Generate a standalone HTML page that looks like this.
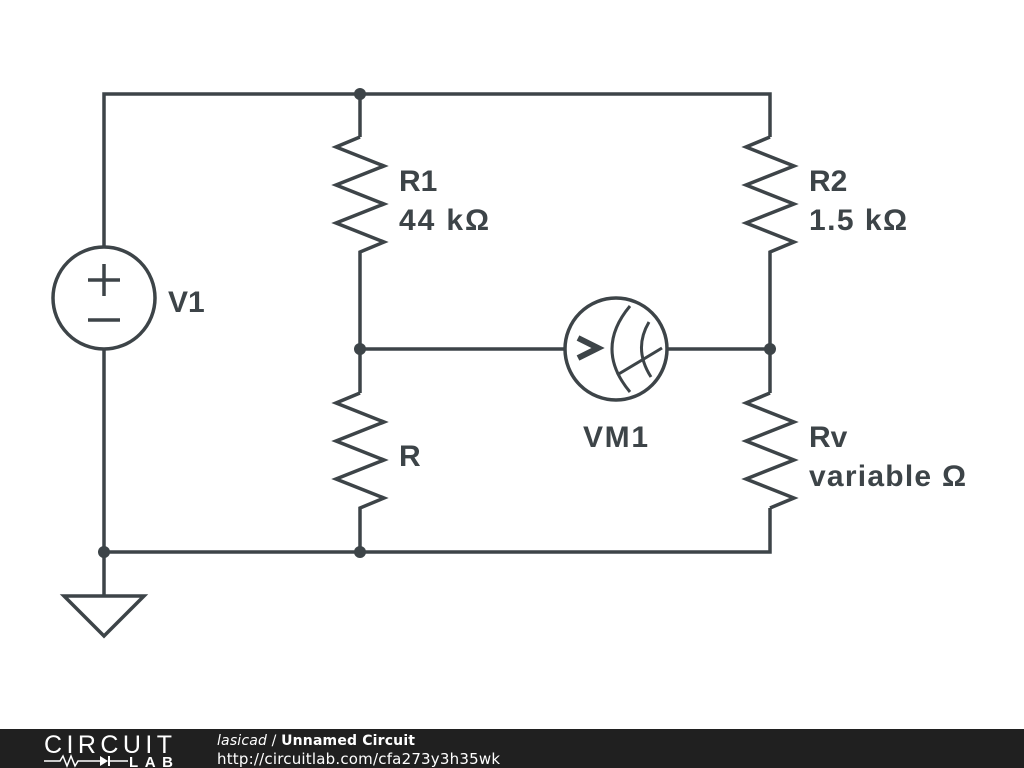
<!DOCTYPE html>
<html><head><meta charset="utf-8"><style>
html,body{margin:0;padding:0;background:#fff;width:1024px;height:768px;overflow:hidden}
svg{display:block}
</style></head><body>
<svg width="1024" height="768" viewBox="0 0 1024 768" xmlns="http://www.w3.org/2000/svg">
<g fill="none" stroke="#3d4448" stroke-width="3.5" stroke-linejoin="miter">
<polyline points="104,247 104,94 770,94 770,137"/>
<line x1="104" y1="349" x2="104" y2="596"/>
<polyline points="104,552 770,552 770,508"/>
<line x1="360" y1="94" x2="360" y2="137"/>
<polyline points="360,137 336,147 384,166 336,185 384,204 336,223 384,242 360,252 360,393"/>
<polyline points="360,393 336,403 384,422 336,441 384,460 336,479 384,498 360,508 360,552"/>
<polyline points="770,137 746,147 794,166 746,185 794,204 746,223 794,242 770,252 770,393"/>
<polyline points="770,393 746,403 794,422 746,441 794,460 746,479 794,498 770,508"/>
<line x1="360" y1="349" x2="565" y2="349"/>
<line x1="667" y1="349" x2="770" y2="349"/>
<circle cx="104" cy="298" r="51"/>
<line x1="88" y1="280" x2="120" y2="280"/>
<line x1="104" y1="264" x2="104" y2="296"/>
<line x1="88" y1="320" x2="120" y2="320"/>
<polygon points="64,596 144,596 104,636"/>
<circle cx="616" cy="349" r="51"/>
<path d="M630,306 Q594,349 630,392" stroke-width="3"/>
<path d="M649,322 Q633,349 651,377" stroke-width="3"/>
<line x1="617" y1="375" x2="662" y2="348" stroke-width="3"/>
<polyline points="578,338 598,348 578,358" stroke-width="6"/>
</g>
<g fill="#3d4448">
<circle cx="360" cy="94" r="6"/>
<circle cx="360" cy="349" r="6"/>
<circle cx="770" cy="349" r="6"/>
<circle cx="104" cy="552" r="6"/>
<circle cx="360" cy="552" r="6"/>
</g>
<g fill="#3d4448" font-family="Liberation Sans, sans-serif" font-weight="bold" font-size="30">
<text x="399" y="191">R1</text>
<text x="399" y="230" textLength="90">44 kΩ</text>
<text x="809" y="191">R2</text>
<text x="809" y="230" textLength="98">1.5 kΩ</text>
<text x="168" y="312">V1</text>
<text x="399" y="466">R</text>
<text x="583" y="447" textLength="65">VM1</text>
<text x="809" y="447">Rv</text>
<text x="809" y="486" textLength="157">variable Ω</text>
</g>
<rect x="0" y="729" width="1024" height="39" fill="#202020"/>
<text x="44" y="753" fill="#fff" font-family="Liberation Sans, sans-serif" font-size="25" textLength="128">CIRCUIT</text>
<g stroke="#fff" stroke-width="1.5" fill="none">
<polyline points="44,761 60,761 63,756 67,766 71,756 75,766 78,761 100,761"/>
<line x1="110" y1="761" x2="128" y2="761"/>
</g>
<polygon points="100,756 100,766 108,761" fill="#fff"/>
<line x1="109" y1="756" x2="109" y2="766" stroke="#fff" stroke-width="2"/>
<text x="129" y="767" fill="#fff" font-family="Liberation Sans, sans-serif" font-weight="bold" font-size="15" textLength="44">LAB</text>
<text x="217" y="745" fill="#fff" font-family="DejaVu Sans, sans-serif" font-size="14" textLength="198"><tspan font-style="italic">lasicad</tspan> / <tspan font-weight="bold">Unnamed Circuit</tspan></text>
<text x="217" y="764" fill="#fff" font-family="DejaVu Sans, sans-serif" font-size="15" textLength="283">http://circuitlab.com/cfa273y3h35wk</text>
</svg>
</body></html>
